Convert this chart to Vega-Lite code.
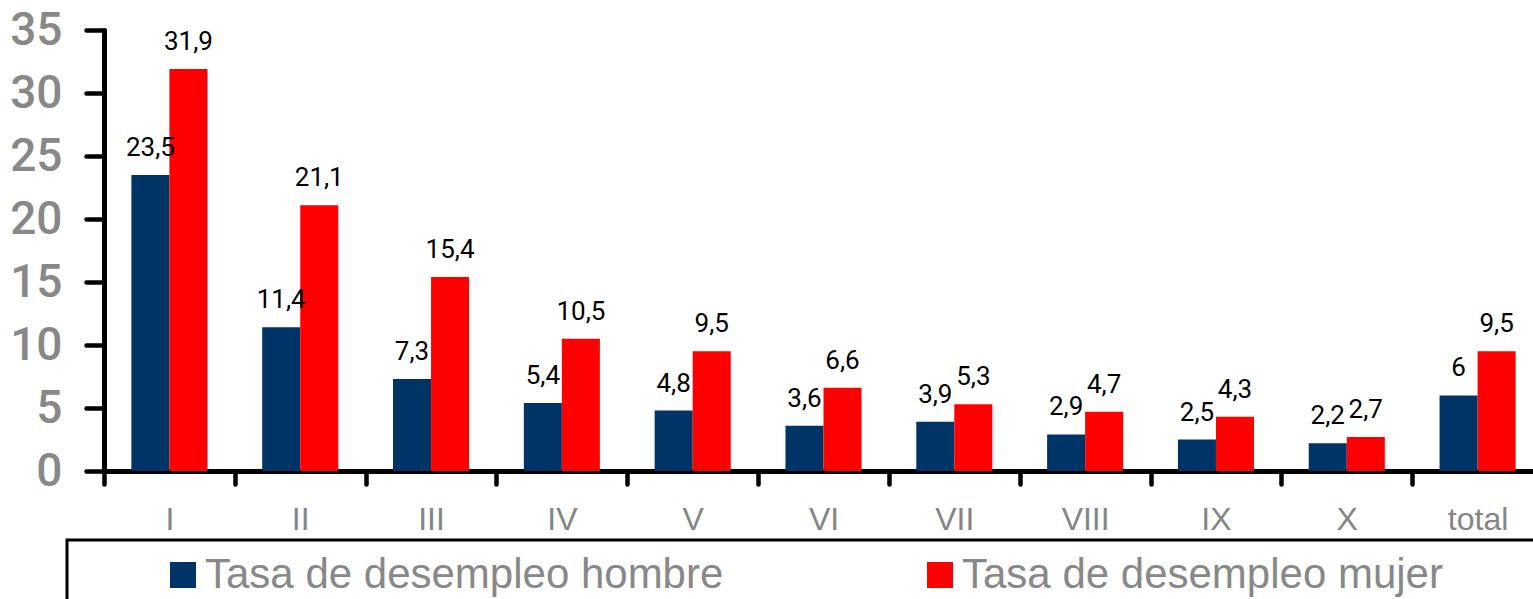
{
  "$schema": "https://vega.github.io/schema/vega-lite/v6.json",
  "width": 1439,
  "height": 441,
  "autosize": {"type": "none"},
  "padding": {"left": 104, "top": 30, "right": 0, "bottom": 128},
  "background": "white",
  "config": {
    "view": {"stroke": null},
    "locale": {"number": {"decimal": ",", "thousands": ".", "grouping": [3], "currency": ["", " €"]}}
  },
  "data": {
    "values": [
      {"region": "I", "serie": "Tasa de desempleo hombre", "valor": 23.5},
      {"region": "I", "serie": "Tasa de desempleo mujer", "valor": 31.9},
      {"region": "II", "serie": "Tasa de desempleo hombre", "valor": 11.4},
      {"region": "II", "serie": "Tasa de desempleo mujer", "valor": 21.1},
      {"region": "III", "serie": "Tasa de desempleo hombre", "valor": 7.3},
      {"region": "III", "serie": "Tasa de desempleo mujer", "valor": 15.4},
      {"region": "IV", "serie": "Tasa de desempleo hombre", "valor": 5.4},
      {"region": "IV", "serie": "Tasa de desempleo mujer", "valor": 10.5},
      {"region": "V", "serie": "Tasa de desempleo hombre", "valor": 4.8},
      {"region": "V", "serie": "Tasa de desempleo mujer", "valor": 9.5},
      {"region": "VI", "serie": "Tasa de desempleo hombre", "valor": 3.6},
      {"region": "VI", "serie": "Tasa de desempleo mujer", "valor": 6.6},
      {"region": "VII", "serie": "Tasa de desempleo hombre", "valor": 3.9},
      {"region": "VII", "serie": "Tasa de desempleo mujer", "valor": 5.3},
      {"region": "VIII", "serie": "Tasa de desempleo hombre", "valor": 2.9},
      {"region": "VIII", "serie": "Tasa de desempleo mujer", "valor": 4.7},
      {"region": "IX", "serie": "Tasa de desempleo hombre", "valor": 2.5},
      {"region": "IX", "serie": "Tasa de desempleo mujer", "valor": 4.3},
      {"region": "X", "serie": "Tasa de desempleo hombre", "valor": 2.2},
      {"region": "X", "serie": "Tasa de desempleo mujer", "valor": 2.7},
      {"region": "total", "serie": "Tasa de desempleo hombre", "valor": 6},
      {"region": "total", "serie": "Tasa de desempleo mujer", "valor": 9.5}
    ]
  },
  "encoding": {
    "x": {
      "field": "region",
      "type": "nominal",
      "sort": ["I", "II", "III", "IV", "V", "VI", "VII", "VIII", "IX", "X", "total"],
      "scale": {"paddingInner": 0, "paddingOuter": 0},
      "axis": {
        "title": null,
        "labelAngle": 0,
        "tickBand": "extent",
        "tickSize": 13,
        "tickWidth": 4.5,
        "tickColor": "black",
        "tickCap": "round",
        "domainColor": "black",
        "domainWidth": 5,
        "labelFont": "Liberation Sans",
        "labelFontSize": 32,
        "labelColor": "#858585",
        "labelPadding": 20
      }
    },
    "xOffset": {
      "field": "serie",
      "type": "nominal",
      "sort": ["Tasa de desempleo hombre", "Tasa de desempleo mujer"],
      "scale": {"paddingInner": 0, "paddingOuter": 0.72}
    },
    "y": {
      "field": "valor",
      "type": "quantitative",
      "scale": {"domain": [0, 35], "nice": false},
      "axis": {
        "title": null,
        "values": [0, 5, 10, 15, 20, 25, 30, 35],
        "grid": false,
        "tickSize": 18,
        "tickWidth": 4.5,
        "tickColor": "black",
        "tickCap": "round",
        "domainColor": "black",
        "domainWidth": 5,
        "domainCap": "round",
        "labelFont": "Roboto",
        "labelFontWeight": 500,
        "labelFontSize": 46,
        "labelColor": "#888888",
        "labelPadding": 24
      }
    }
  },
  "layer": [
    {
      "mark": {"type": "bar"},
      "encoding": {
        "color": {
          "field": "serie",
          "type": "nominal",
          "scale": {"domain": ["Tasa de desempleo hombre", "Tasa de desempleo mujer"], "range": ["#003366", "#FF0000"]},
          "legend": {
            "title": "\u00a0",
            "titleOrient": "right",
            "titlePadding": 110,
            "titleFontSize": 12,
            "orient": "none",
            "legendX": -37,
            "legendY": 510,
            "direction": "horizontal",
            "columns": 2,
            "columnPadding": 105,
            "symbolType": "square",
            "symbolSize": 676,
            "symbolStrokeWidth": 0,
            "symbolOffset": 90,
            "labelOffset": 1,
            "labelFont": "Liberation Sans",
            "labelFontSize": 42,
            "labelColor": "#888888",
            "labelLimit": 900,
            "clipHeight": 60,
            "padding": 5,
            "strokeColor": "black",
            "encode": {"legend": {"update": {"strokeWidth": {"value": 3}}}}
          }
        }
      }
    },
    {
      "mark": {"type": "text", "baseline": "alphabetic", "dy": -19, "font": "Roboto", "fontSize": 26, "color": "black"},
      "encoding": {
        "text": {"field": "valor", "type": "quantitative", "format": "~g"}
      }
    }
  ]
}
